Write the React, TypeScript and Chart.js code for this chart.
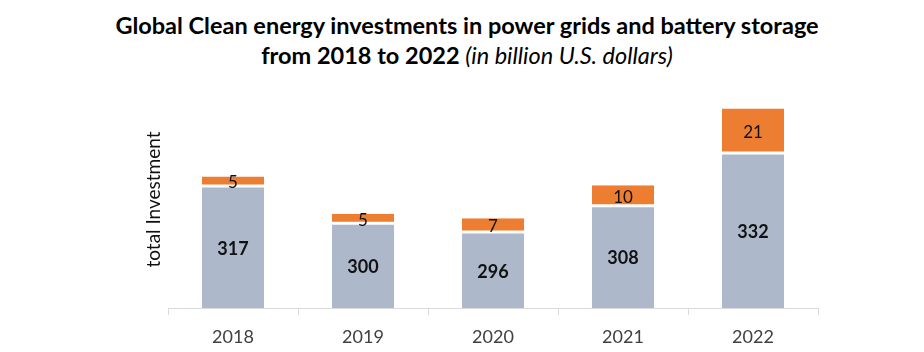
import React, { useEffect, useRef } from "react";
import { Chart, registerables } from "chart.js";

Chart.register(...registerables);

const categories = ["2018", "2019", "2020", "2021", "2022"];
const gridValues = [317, 300, 296, 308, 332];
const storageValues = [5, 5, 7, 10, 21];
const yMin = 262;
const yMax = 361;

const GREY = "#ADB9CA";
const ORANGE = "#ED7D31";
const FONT = "Lato, 'Open Sans', sans-serif";

const labelPlugin = {
  id: "barLabels",
  afterDatasetsDraw(chart: any) {
    const ctx = chart.ctx;
    const bottom = chart.chartArea.bottom;
    ctx.save();
    ctx.textAlign = "center";
    ctx.textBaseline = "middle";
    chart.data.datasets.forEach((ds: any, di: number) => {
      const meta = chart.getDatasetMeta(di);
      meta.data.forEach((bar: any, i: number) => {
        const v = ds.data[i];
        const cy = (bar.y + Math.min(bar.base, bottom)) / 2;
        ctx.font = di === 0 ? "bold 18px " + FONT : "17px " + FONT;
        ctx.fillStyle = "#111";
        ctx.fillText(String(v), bar.x, cy + 1);
      });
    });
    ctx.restore();
  },
};

export default function App() {
  const ref = useRef<HTMLCanvasElement>(null);
  useEffect(() => {
    if (!ref.current) return;
    const chart = new Chart(ref.current, {
      type: "bar",
      data: {
        labels: categories,
        datasets: [
          {
            label: "Power grids",
            data: gridValues,
            backgroundColor: GREY,
            borderWidth: 0,
            barPercentage: 0.477,
            categoryPercentage: 1,
          },
          {
            label: "Battery storage",
            data: storageValues,
            backgroundColor: ORANGE,
            borderColor: "#ffffff",
            borderWidth: { top: 0, left: 0, right: 0, bottom: 3 },
            borderSkipped: false,
            barPercentage: 0.477,
            categoryPercentage: 1,
          },
        ],
      },
      options: {
        responsive: false,
        animation: false,
        layout: { padding: { left: 139, right: 106, top: 91, bottom: 0 } },
        plugins: {
          legend: { display: false },
          title: { display: false },
          tooltip: { enabled: false },
        },
        scales: {
          x: {
            stacked: true,
            grid: {
              offset: true,
              drawOnChartArea: false,
              tickLength: 7,
              color: "#D9D9D9",
            },
            border: { display: true, color: "#D9D9D9" },
            ticks: {
              color: "#404040",
              font: { family: FONT, size: 18 },
              padding: 11,
            },
            afterFit(scale: any) {
              scale.height = 44;
            },
          },
          y: {
            stacked: true,
            min: yMin,
            max: yMax,
            grid: { display: false },
            border: { display: false },
            ticks: { display: false },
            title: {
              display: true,
              text: "total Investment",
              color: "#111",
              font: { family: FONT, size: 19 },
              padding: { top: 3, bottom: 3 },
            },
            afterFit(scale: any) {
              scale.width = 29;
            },
          },
        },
      },
      plugins: [labelPlugin],
    });
    return () => chart.destroy();
  }, []);

  return (
    <div style={{ position: "fixed", left: 0, top: 0, width: 924, height: 352, background: "#fff" }}>
      <div
        style={{
          position: "absolute",
          top: 10,
          left: 10,
          width: 914,
          textAlign: "center",
          fontFamily: FONT,
          fontSize: 23.5,
          lineHeight: "30px",
          fontWeight: "bold",
          color: "#000",
        }}
      >
        <div>Global Clean energy investments in power grids and battery storage</div>
        <div>
          from 2018 to 2022 <span style={{ fontStyle: "italic", fontWeight: "normal" }}>(in billion U.S. dollars)</span>
        </div>
      </div>
      <canvas ref={ref} width={924} height={352} style={{ position: "absolute", left: 0, top: 0 }} />
    </div>
  );
}
